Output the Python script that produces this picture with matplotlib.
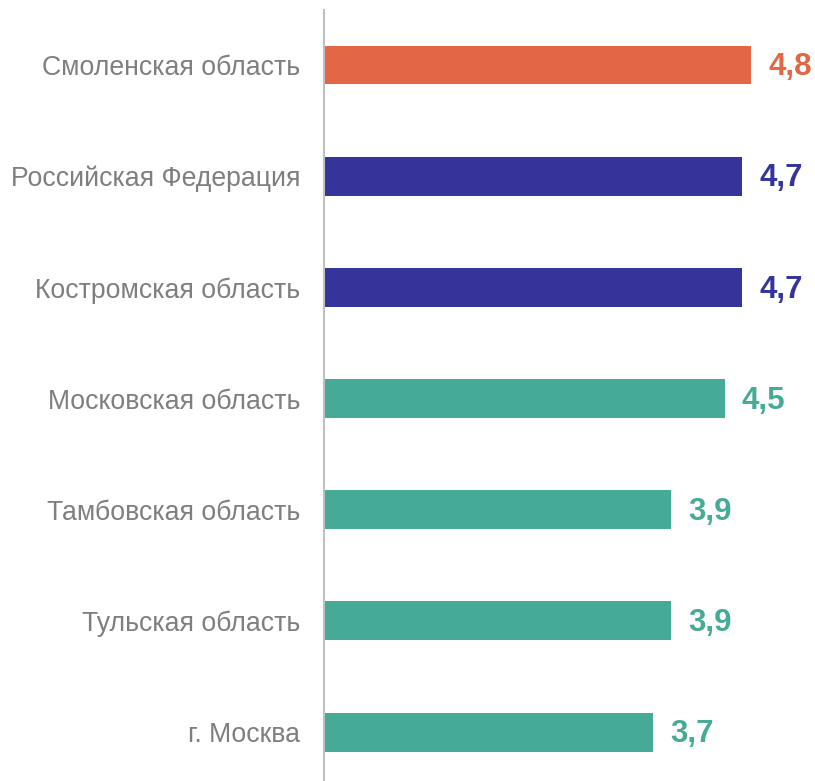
import matplotlib.pyplot as plt

plt.rcParams['font.family'] = ['Liberation Sans', 'DejaVu Sans']

regions = ['Смоленская область', 'Российская Федерация', 'Костромская область',
           'Московская область', 'Тамбовская область', 'Тульская область', 'г. Москва']
values = [4.8, 4.7, 4.7, 4.5, 3.9, 3.9, 3.7]
colors = ['#E36645', '#35349A', '#35349A', '#45AB97', '#45AB97', '#45AB97', '#45AB97']

fig = plt.figure(figsize=(8.15, 7.81), dpi=100)
ax = fig.add_axes([324 / 815, 0, 1 - 324 / 815, 1 - 10 / 781])

ys = list(range(len(values)))
ax.barh(ys, values, height=0.35, color=colors)
for y, v, c in zip(ys, values, colors):
    ax.text(v + 0.19, y + 0.02, f'{v:.1f}'.replace('.', ','), va='center', ha='left',
            fontsize=22.5, fontweight='bold', color=c)

ax.set_yticks(ys)
ax.set_yticklabels(regions, fontsize=19.2, color='#7F7F7F')
ax.tick_params(axis='y', length=0, pad=17)
ax.set_xticks([])
ax.set_xlim(0, 491 / 89)
ax.set_ylim(6.44, -0.495)
for s in ['top', 'right', 'bottom']:
    ax.spines[s].set_visible(False)
ax.spines['left'].set_color('#BFBFBF')
ax.spines['left'].set_linewidth(1.5)

fig.savefig('out.png', dpi=100)
